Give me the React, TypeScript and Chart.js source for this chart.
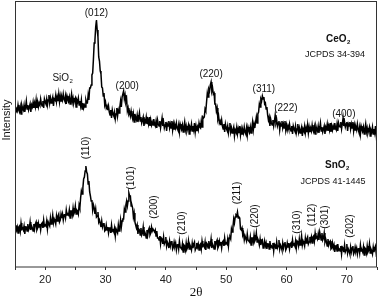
import React, { useEffect, useRef } from 'react';
import { Chart, registerables } from 'chart.js';

Chart.register(...registerables);

// 2θ grid of the scans (15° .. 75°)
const thetaStart = 15;
const thetaStep = 0.125;

// CeO2 pattern (upper trace), arbitrary intensity units, one row per degree
const ceo2Intensity = [
  159,154,158,156,162,157,155,160, // 15
  153,162,159,157,162,155,160,166, // 16
  158,162,157,160,163,155,162,160, // 17
  165,159,164,160,167,159,165,160, // 18
  164,162,168,163,161,166,159,168, // 19
  165,163,168,162,167,172,164,169, // 20
  164,167,170,161,168,167,172,165, // 21
  170,166,173,165,171,166,170,167, // 22
  173,168,166,171,163,171,168,166, // 23
  170,163,168,173,165,169,164,167, // 24
  169,160,167,165,169,162,166,161, // 25
  167,158,164,159,162,160,167,164, // 26
  164,172,167,179,179,182,192,194, // 27
  208,224,227,240,247,237,230,210, // 28
  206,196,193,180,179,171,174,162, // 29
  165,159,161,157,161,155,152,157, // 30
  149,157,153,151,155,148,153,159, // 31
  151,157,154,160,166,160,170,170, // 32
  176,168,172,165,168,156,159,153, // 33
  155,151,156,151,148,153,145,153, // 34
  149,147,152,145,149,154,146,150, // 35
  144,147,150,141,147,145,150,143, // 36
  147,143,150,141,147,142,145,142, // 37
  148,143,141,146,139,147,143,141, // 38
  146,139,144,149,141,145,139,142, // 39
  145,136,143,141,146,139,143,139, // 40
  146,137,143,138,142,139,144,139, // 41
  137,142,135,143,140,138,142,135, // 42
  140,145,137,141,136,139,142,133, // 43
  140,138,143,136,141,137,144,135, // 44
  141,136,140,137,144,140,139,146, // 45
  140,150,149,150,158,156,165,174, // 46
  170,178,176,182,185,176,179,173, // 47
  174,163,163,156,159,148,151,144, // 48
  146,142,147,141,138,143,135,143, // 49
  139,137,141,134,139,144,135,139, // 50
  134,137,140,131,137,135,140,133, // 51
  138,134,141,132,138,133,137,134, // 52
  140,135,133,139,132,140,137,135, // 53
  140,134,139,145,137,143,139,145, // 54
  150,144,153,155,163,160,168,166, // 55
  171,168,170,163,164,158,160,152, // 56
  147,150,141,148,144,142,147,141, // 57
  146,152,144,147,141,144,146,137, // 58
  143,141,146,139,143,139,146,137, // 59
  142,137,141,138,143,138,136,141, // 60
  133,141,138,136,141,134,138,143, // 61
  135,139,134,137,140,131,138,136, // 62
  141,134,139,135,142,134,140,135, // 63
  139,136,142,137,135,140,133,141, // 64
  138,136,141,134,139,144,136,140, // 65
  135,138,141,133,140,138,143,136, // 66
  141,137,144,135,141,137,141,138, // 67
  144,139,137,143,136,144,141,140, // 68
  145,138,143,149,141,145,140,143, // 69
  145,136,143,141,145,138,143,139, // 70
  145,136,142,137,140,137,143,138, // 71
  135,140,133,141,138,136,140,133, // 72
  138,143,135,139,134,137,140,131, // 73
  137,135,140,133,138,134,141,132, // 74
  138, // 75
];

// SnO2 pattern (lower trace), arbitrary intensity units, one row per degree
const sno2Intensity = [
  37,42,37,40,34,40,41,36, // 15
  44,38,39,37,41,33,40,40, // 16
  36,43,37,39,45,37,41,39, // 17
  36,43,38,43,45,37,39,44, // 18
  40,43,37,43,44,39,47,41, // 19
  42,41,46,38,45,45,41,49, // 20
  43,46,52,44,48,46,43,51, // 21
  46,51,53,45,47,53,49,53, // 22
  47,52,53,49,57,52,53,52, // 23
  57,49,56,56,52,59,53,55, // 24
  61,53,57,56,53,62,59,69, // 25
  76,73,79,88,90,96,101,95, // 26
  93,83,86,75,71,66,67,57, // 27
  62,59,53,58,50,51,55,45, // 28
  47,44,40,46,40,43,44,36, // 29
  37,42,37,40,34,39,39,34, // 30
  42,36,37,35,39,31,38,38, // 31
  34,42,36,40,47,40,46,48, // 32
  48,58,55,62,66,61,66,74, // 33
  71,71,61,62,59,50,54,45, // 34
  42,39,42,33,38,37,32,39, // 35
  32,34,40,31,35,33,29,37, // 36
  32,37,39,32,34,40,36,38, // 37
  38,35,37,31,36,29,29,27, // 38
  31,23,29,28,23,30,23,25, // 39
  30,21,25,23,19,26,21,25, // 40
  26,18,20,25,21,24,17,22, // 41
  23,18,26,20,20,18,23,15, // 42
  22,21,17,24,18,20,26,18, // 43
  22,20,17,24,19,23,25,17, // 44
  19,24,20,23,17,22,23,18, // 45
  26,21,22,20,25,17,24,23, // 46
  19,26,20,22,28,19,23,21, // 47
  18,26,21,25,27,19,21,26, // 48
  22,25,19,25,26,21,29,23, // 49
  24,23,28,21,29,30,28,38, // 50
  35,40,48,44,50,52,51,55, // 51
  49,50,49,38,37,39,32,34, // 52
  27,31,31,26,33,27,27,25, // 53
  30,22,29,29,25,32,26,28, // 54
  34,25,28,26,22,28,22,26, // 55
  27,19,21,26,21,24,18,23, // 56
  23,18,26,20,21,19,24,16, // 57
  23,22,18,25,19,21,27,18, // 58
  22,20,17,24,19,23,25,17, // 59
  19,24,20,24,18,23,24,19, // 60
  27,22,23,21,26,19,26,25, // 61
  21,28,22,25,31,22,26,24, // 62
  21,29,24,28,30,23,25,30, // 63
  26,30,24,30,31,26,34,29, // 64
  30,28,33,27,35,31,27,34, // 65
  27,29,34,25,28,25,21,28, // 66
  22,25,26,18,19,24,19,22, // 67
  15,20,21,16,23,17,18,16, // 68
  21,13,20,19,15,22,15,17, // 69
  23,14,18,16,13,20,15,19, // 70
  21,13,15,20,16,19,13,18, // 71
  19,14,22,16,17,15,20,12, // 72
  19,18,14,21,15,17,23,14, // 73
  18,16,13,20,15,19,21,13, // 74
  15, // 75
];

const xMin = 15;
const xMax = 75;
const yMin = 0;
const yMax = 266;
const xTickValues = [15, 20, 25, 30, 35, 40, 45, 50, 55, 60, 65, 70, 75];
const xLabelledTicks = [20, 30, 40, 50, 60, 70];

// Peak labels: text, 2θ, intensity position
const ceo2PeakText = ['(012)', '(200)', '(220)', '(311)', '(222)', '(400)'];
const ceo2PeakTheta = [28.5, 33.6, 47.5, 56.25, 59.9, 69.5];
const ceo2PeakY = [254, 181, 193, 178, 159, 153];

const sno2PeakText = ['(110)', '(101)', '(200)', '(210)', '(211)', '(220)', '(310)', '(112)', '(301)', '(202)'];
const sno2PeakTheta = [26.75, 34.26, 38.07, 42.7, 51.78, 54.75, 61.86, 64.34, 66.49, 70.62];
const sno2PeakY = [119, 89, 60, 44, 74, 51, 45, 52, 50, 41];

const sans = "Arial, 'Liberation Sans', Helvetica, sans-serif";

export default function App() {
  const ref = useRef<HTMLCanvasElement | null>(null);

  useEffect(() => {
    document.body.style.margin = '0';
    const canvas = ref.current;
    if (!canvas) return;

    const toPoints = (arr: number[]) =>
      arr.map((v, i) => ({ x: thetaStart + i * thetaStep, y: v }));

    const drawSub = (
      ctx: CanvasRenderingContext2D,
      base: string,
      sub: string,
      cx: number,
      cy: number,
      size: number
    ) => {
      ctx.font = `bold ${size}px ${sans}`;
      const w1 = ctx.measureText(base).width;
      ctx.font = `bold ${size * 0.6}px ${sans}`;
      const w2 = ctx.measureText(sub).width;
      const left = cx - (w1 + w2) / 2;
      ctx.textAlign = 'left';
      ctx.textBaseline = 'middle';
      ctx.font = `bold ${size}px ${sans}`;
      ctx.fillText(base, left, cy);
      ctx.font = `bold ${size * 0.6}px ${sans}`;
      ctx.fillText(sub, left + w1 + 0.5, cy + size * 0.3);
    };

    const annotate = {
      id: 'annotate',
      afterDatasetsDraw(chart: any) {
        const ctx: CanvasRenderingContext2D = chart.ctx;
        const xs = chart.scales.x;
        const ys = chart.scales.y;
        const a = chart.chartArea;
        ctx.save();
        // frame
        ctx.strokeStyle = '#333';
        ctx.lineWidth = 1;
        ctx.strokeRect(Math.round(a.left) + 0.5, Math.round(a.top) + 0.5,
          Math.round(a.right - a.left) - 1, Math.round(a.bottom - a.top) - 0.5);

        ctx.fillStyle = '#111';
        ctx.font = `10px ${sans}`;
        ctx.textAlign = 'center';
        ctx.textBaseline = 'middle';
        ceo2PeakText.forEach((t, i) => {
          ctx.fillText(t, xs.getPixelForValue(ceo2PeakTheta[i]), ys.getPixelForValue(ceo2PeakY[i]));
        });
        sno2PeakText.forEach((t, i) => {
          ctx.save();
          ctx.translate(xs.getPixelForValue(sno2PeakTheta[i]), ys.getPixelForValue(sno2PeakY[i]));
          ctx.rotate(-Math.PI / 2);
          ctx.fillText(t, 0, 0);
          ctx.restore();
        });

        // SiO2 impurity label
        ctx.font = `10px ${sans}`;
        ctx.textAlign = 'left';
        const sx = xs.getPixelForValue(21.2);
        const sy = ys.getPixelForValue(189);
        ctx.fillText('SiO', sx, sy);
        const wS = ctx.measureText('SiO').width;
        ctx.font = `6px ${sans}`;
        ctx.fillText('2', sx + wS + 0.5, sy + 3);

        // phase labels
        drawSub(ctx, 'CeO', '2', 338, 39, 10);
        drawSub(ctx, 'SnO', '2', 337, 165, 10);
        ctx.font = `9px ${sans}`;
        ctx.textAlign = 'center';
        ctx.textBaseline = 'middle';
        ctx.fillText('JCPDS 34-394', 335, 55);
        ctx.fillText('JCPDS 41-1445', 333, 182);

        // axis titles
        ctx.save();
        ctx.translate(7, 120);
        ctx.rotate(-Math.PI / 2);
        ctx.font = `11px ${sans}`;
        ctx.fillText('Intensity', 0, 0);
        ctx.restore();

        ctx.font = `13px 'Liberation Serif', 'DejaVu Serif', serif`;
        ctx.fillText('2\u03B8', (a.left + a.right) / 2, 293);
        ctx.restore();
      },
    };

    const chart = new Chart(canvas, {
      type: 'line',
      data: {
        datasets: [
          {
            label: 'CeO2',
            data: toPoints(ceo2Intensity),
            borderColor: '#000',
            borderWidth: 1.5,
            pointRadius: 0,
            tension: 0,
          },
          {
            label: 'SnO2',
            data: toPoints(sno2Intensity),
            borderColor: '#000',
            borderWidth: 1.5,
            pointRadius: 0,
            tension: 0,
          },
        ],
      },
      options: {
        responsive: false,
        animation: false,
        devicePixelRatio: 1,
        layout: { padding: { top: 1, right: 2, left: 0, bottom: 0 } },
        plugins: {
          legend: { display: false },
          tooltip: { enabled: false },
          title: { display: false },
        },
        scales: {
          x: {
            type: 'linear',
            min: xMin,
            max: xMax,
            afterBuildTicks: (s: any) => {
              s.ticks = xTickValues.map((v) => ({ value: v }));
            },
            afterFit: (s: any) => {
              s.height = 34;
            },
            ticks: {
              autoSkip: false,
              maxRotation: 0,
              padding: 3,
              color: '#222',
              font: { size: 11, family: sans },
              callback: (v: any) => (xLabelledTicks.includes(Number(v)) ? String(v) : ''),
            },
            grid: {
              display: true,
              drawOnChartArea: false,
              drawTicks: true,
              tickLength: 3,
              color: '#333',
            },
            border: { display: false },
          },
          y: {
            type: 'linear',
            min: yMin,
            max: yMax,
            afterFit: (s: any) => {
              s.width = 15;
            },
            ticks: { display: false },
            grid: { display: false },
            border: { display: false },
          },
        },
      },
      plugins: [annotate],
    } as any);

    return () => chart.destroy();
  }, []);

  return (
    <div style={{ width: 380, height: 301, background: '#fff' }}>
      <canvas ref={ref} width={380} height={301} style={{ display: 'block' }} />
    </div>
  );
}
